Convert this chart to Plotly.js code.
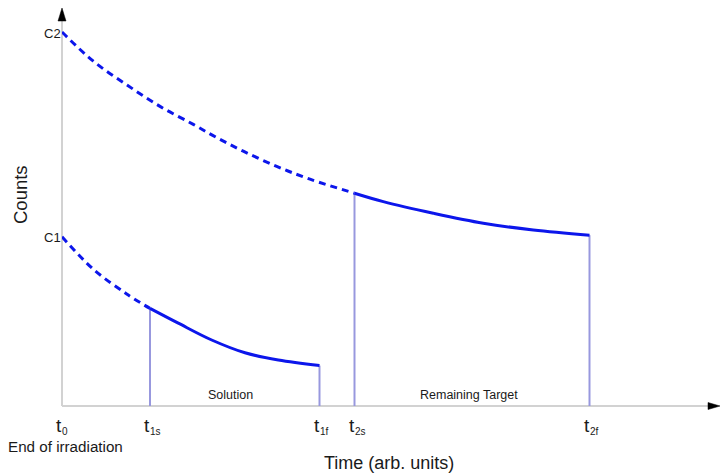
<!DOCTYPE html>
<html>
<head>
<meta charset="utf-8">
<script src="https://cdn.plot.ly/plotly-3.0.1.min.js"></script>
<style>
  html, body { margin: 0; padding: 0; background: #ffffff; }
  #chart { width: 722px; height: 475px; }
</style>
</head>
<body>
<div id="chart"></div>
<script>
// ---- data (time in arb. units, counts in arb. units) ----
const tickNames = ['0', '1s', '1f', '2s', '2f'];
const tickTimes = [0, 0.88, 2.575, 2.925, 5.275];

// Curve for C1 (solution): extrapolated (dashed) and measured (solid)
const c1DashT  = [0, 0.313, 0.647, 0.88];
const c1DashN  = [4.23, 3.42, 2.80, 2.44];
const c1SolidT = [0.88, 1.163, 1.497, 1.83, 2.163, 2.575];
const c1SolidN = [2.44, 2.07, 1.65, 1.33, 1.15, 1.01];

// Curve for C2 (remaining target)
const c2DashT  = [0, 0.313, 0.647, 0.98, 1.313, 1.547, 1.813, 2.147, 2.48, 2.925];
const c2DashN  = [9.35, 8.62, 8.03, 7.49, 7.04, 6.71, 6.37, 5.99, 5.67, 5.32];
const c2SolidT = [2.925, 3.213, 3.713, 4.213, 4.713, 5.275];
const c2SolidN = [5.32, 5.11, 4.82, 4.57, 4.40, 4.27];

const curveNames  = ['C1', 'C2'];
const regionNames = ['Solution', 'Remaining Target'];
const xTitle = 'Time (arb. units)';
const yTitle = 'Counts';
const originNote = 'End of irradiation';

// ---- styles ----
const FONT = 'Liberation Sans, Arial, Helvetica, sans-serif';
const BLUE = 'rgb(12,22,235)';
const VLINE = 'rgb(152,152,222)';
const AXIS = '#d2d2d2';
const TXT = '#1a1a1a';

const last = a => a[a.length - 1];

// vertical marker lines from the axis up to the curves
const vX = [tickTimes[1], tickTimes[2], tickTimes[3], tickTimes[4]];
const vY = [c1SolidN[0], last(c1SolidN), c2SolidN[0], last(c2SolidN)];

const traces = [];
vX.forEach((t, i) => {
  traces.push({
    x: [t, t], y: [0, vY[i]], mode: 'lines', type: 'scatter',
    line: { color: VLINE, width: 2 }, hoverinfo: 'skip', showlegend: false
  });
});

const dashSpec = '7px,5px';
[[c1DashT, c1DashN, dashSpec], [c1SolidT, c1SolidN, 'solid'],
 [c2DashT, c2DashN, dashSpec], [c2SolidT, c2SolidN, 'solid']].forEach(s => {
  traces.push({
    x: s[0], y: s[1], mode: 'lines', type: 'scatter',
    line: { color: BLUE, width: 3, dash: s[2], shape: 'spline', smoothing: 1 },
    hoverinfo: 'skip', showlegend: false
  });
});

const annotations = [];
// tick labels: "t" with subscripts
tickTimes.forEach((t, i) => {
  annotations.push({
    x: t, y: 0, xref: 'x', yref: 'y', text: 't', showarrow: false,
    xanchor: 'center', yanchor: 'top', xshift: -3, yshift: -7,
    font: { family: FONT, size: 19, color: TXT }
  });
  annotations.push({
    x: t, y: 0, xref: 'x', yref: 'y', text: tickNames[i], showarrow: false,
    xanchor: 'left', yanchor: 'top', xshift: -2, yshift: -18,
    font: { family: FONT, size: 10, color: TXT }
  });
});
// region labels centred between start and finish times
annotations.push({
  x: (tickTimes[1] + tickTimes[2]) / 2, y: 0, text: regionNames[0], showarrow: false,
  xanchor: 'center', yanchor: 'bottom', xshift: -4, yshift: 2,
  font: { family: FONT, size: 12.5, color: TXT }
});
annotations.push({
  x: (tickTimes[3] + tickTimes[4]) / 2, y: 0, text: regionNames[1], showarrow: false,
  xanchor: 'center', yanchor: 'bottom', xshift: -3, yshift: 2,
  font: { family: FONT, size: 12.5, color: TXT }
});
// C1 / C2 labels at t0
annotations.push({
  x: 0, y: c1DashN[0], text: curveNames[0], showarrow: false,
  xanchor: 'right', yanchor: 'middle', xshift: 1, yshift: -1,
  font: { family: FONT, size: 13, color: TXT }
});
annotations.push({
  x: 0, y: c2DashN[0], text: curveNames[1], showarrow: false,
  xanchor: 'right', yanchor: 'middle', xshift: 1, yshift: -1,
  font: { family: FONT, size: 13, color: TXT }
});
// origin note
annotations.push({
  x: 0, y: 0, text: originNote, showarrow: false,
  xanchor: 'center', yanchor: 'top', xshift: 3, yshift: -30,
  font: { family: FONT, size: 15.2, color: TXT }
});
// axis titles
annotations.push({
  x: 0.5, y: 0, xref: 'paper', yref: 'paper', text: xTitle, showarrow: false,
  xanchor: 'center', yanchor: 'top', xshift: -2, yshift: -45,
  font: { family: FONT, size: 18, color: TXT }
});
annotations.push({
  x: 0, y: 0.5, xref: 'paper', yref: 'paper', text: yTitle, showarrow: false,
  textangle: -90, xanchor: 'center', yanchor: 'middle', xshift: -42, yshift: 12,
  font: { family: FONT, size: 18.5, color: TXT }
});

const H = 398, W = 658;
const shapes = [
  { type: 'line', xref: 'paper', yref: 'paper', x0: 0, x1: (708 - 62) / W, y0: 0, y1: 0,
    line: { color: AXIS, width: 2 }, layer: 'below' },
  { type: 'line', xref: 'paper', yref: 'paper', x0: 0, x1: 0, y0: 0, y1: (406 - 21) / H,
    line: { color: AXIS, width: 2 }, layer: 'below' },
  { type: 'path', xref: 'paper', yref: 'paper',
    path: `M ${(708 - 62) / W},${3.5 / H} L 1,0 L ${(708 - 62) / W},${-3.5 / H} Z`,
    fillcolor: '#000', line: { color: '#000', width: 0.5 } },
  { type: 'path', xref: 'paper', yref: 'paper',
    path: `M ${-4 / W},${(406 - 21) / H} L 0,1 L ${4 / W},${(406 - 21) / H} Z`,
    fillcolor: '#000', line: { color: '#000', width: 0.5 } }
];

const layout = {
  width: 722, height: 475,
  margin: { l: 62, r: 2, t: 8, b: 69, pad: 0 },
  paper_bgcolor: '#ffffff', plot_bgcolor: '#ffffff',
  showlegend: false,
  xaxis: { range: [0, 6.58], showgrid: false, zeroline: false, showline: false,
           showticklabels: false, ticks: '', fixedrange: true },
  yaxis: { range: [0, 9.95], showgrid: false, zeroline: false, showline: false,
           showticklabels: false, ticks: '', fixedrange: true },
  annotations: annotations,
  shapes: shapes,
  hovermode: false
};

Plotly.newPlot('chart', traces, layout, { displayModeBar: false, staticPlot: true });
</script>
</body>
</html>
